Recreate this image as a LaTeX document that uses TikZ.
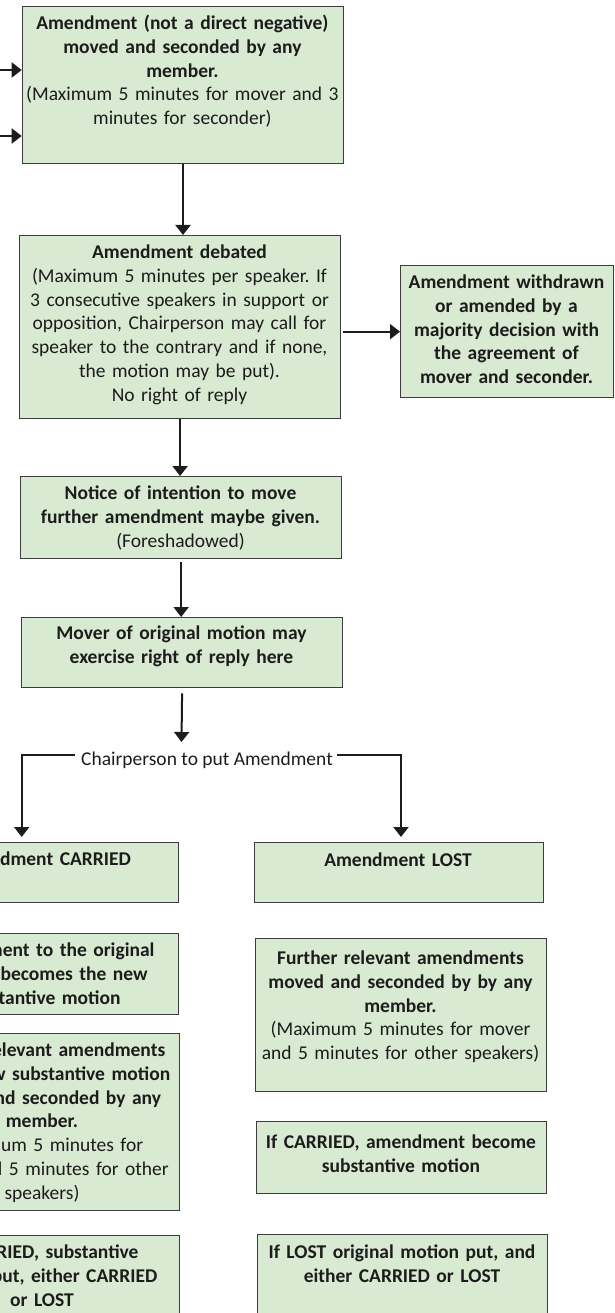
\documentclass[tikz,border=0pt]{standalone}
\usepackage{fontspec}
\setmainfont{Carlito}
\usetikzlibrary{arrows.meta}
\definecolor{boxfill}{RGB}{216,234,210}
\definecolor{boxline}{RGB}{60,60,60}
\definecolor{ink}{RGB}{28,28,28}
\frenchspacing
\begin{document}
\begin{tikzpicture}[x=1pt,y=-1pt,
  box/.style={draw=boxline, line width=1.3pt, fill=boxfill, inner sep=0pt, anchor=north west},
  txt/.style={anchor=base, align=center, inner sep=0pt, text=ink, font=\fontsize{19.5}{23.8}\selectfont},
  arr/.style={draw=ink, line width=2pt, -{Triangle[width=15pt,length=10pt]}}]
\useasboundingbox (0,0) rectangle (614,1313);
% boxes
\node[box, minimum width=321.3pt, minimum height=157pt] (b1) at (21.7,6) {};
\node[box, minimum width=321.1pt, minimum height=183pt] (b2) at (18.9,235) {};
\node[box, minimum width=213pt, minimum height=132pt] (wd) at (400,265) {};
\node[box, minimum width=321pt, minimum height=82pt] (b3) at (20,476) {};
\node[box, minimum width=321pt, minimum height=70pt] (b4) at (21,617) {};
\node[box, minimum width=273pt, minimum height=60pt] (car) at (-95,842) {};
\node[box, minimum width=288.5pt, minimum height=60pt] (lost) at (254,842) {};
\node[box, minimum width=273pt, minimum height=81pt] (l2) at (-95,933) {};
\node[box, minimum width=291pt, minimum height=153pt] (fur) at (255,938) {};
\node[box, minimum width=274pt, minimum height=177pt] (l3) at (-95,1033) {};
\node[box, minimum width=290pt, minimum height=72pt] (ifc) at (256,1121) {};
\node[box, minimum width=274pt, minimum height=100pt] (l4) at (-95,1235) {};
\node[box, minimum width=290pt, minimum height=100pt] (ifl) at (257,1234) {};
% texts
\node[txt, text width=330pt] (t1) at (182.4,29.5) {\textbf{Amendment (not a direct negative)}\\\textbf{moved and seconded by any}\\\textbf{member.}\\(Maximum 5 minutes for mover and 3\\minutes for seconder)};
\node[txt, text width=330pt] (t2) at (179.5,258.5) {\textbf{Amendment debated}\\(Maximum 5 minutes per speaker. If\\3 consecutive speakers in support or\\opposition, Chairperson may call for\\speaker to the contrary and if none,\\the motion may be put).\\No right of reply};
\node[txt, text width=220pt] (twd) at (506.5,288.5) {\textbf{Amendment withdrawn}\\\textbf{or amended by a}\\\textbf{majority decision with}\\\textbf{the agreement of}\\\textbf{mover and seconder.}};
\node[txt, text width=330pt] (t3) at (180.5,499.5) {\textbf{Notice of intention to move}\\\textbf{further amendment maybe given.}\\(Foreshadowed)};
\node[txt, text width=330pt] (t4) at (181.5,639.5) {\textbf{Mover of original motion may}\\\textbf{exercise right of reply here}};
\node[txt] (chair) at (207,765.5) {Chairperson to put Amendment};
\node[txt, text width=300pt] (tcar) at (41.5,865.5) {\textbf{Amendment CARRIED}};
\node[txt, text width=300pt] (tlost) at (398,866.5) {\textbf{Amendment LOST}};
\node[txt, text width=300pt] (tl2) at (41.5,956.5) {\textbf{Amendment to the original}\\\textbf{motion becomes the new}\\\textbf{substantive motion}};
\node[txt, text width=300pt] (tfur) at (400.5,964.5) {\textbf{Further relevant amendments}\\\textbf{moved and seconded by by any}\\\textbf{member.}\\(Maximum 5 minutes for mover\\and 5 minutes for other speakers)};
\node[txt, text width=300pt] (tl3) at (42,1056.5) {\textbf{Further relevant amendments}\\\textbf{to the new substantive motion}\\\textbf{moved and seconded by any}\\\textbf{member.}\\(Maximum 5 minutes for\\mover and 5 minutes for other\\speakers)};
\node[txt, text width=300pt] (tifc) at (401,1148.5) {\textbf{If CARRIED, amendment become}\\\textbf{substantive motion}};
\node[txt, text width=300pt] (tl4) at (42,1258.5) {\textbf{If CARRIED, substantive}\\\textbf{motion put, either CARRIED}\\\textbf{or LOST}};
\node[txt, text width=300pt] (tifl) at (402,1258.5) {\textbf{If LOST original motion put, and}\\\textbf{either CARRIED or LOST}};
% coordinates
\coordinate (inA) at (-2,70);
\coordinate (inB) at (-2,136);
\coordinate (put) at (181.5,742);
\coordinate (cl) at (21.7,755);
\coordinate (cr) at (401,755);
% connectors
\draw[arr] (inA) -- (inA -| b1.west);
\draw[arr] (inB) -- (inB -| b1.west);
\draw[arr] (b1.south) -- (b1.south |- b2.north);
\draw[arr, shorten <=2pt] (wd.west -| b2.east) -- (wd.west);
\draw[arr] (b2.south) -- (b2.south |- b3.north);
\draw[arr, shorten <=3pt] (b3.south) -- (b3.south |- b4.north);
\draw[arr, shorten <=5pt] (b4.south) -- (put);
\draw[arr, shorten >=5pt] ([xshift=-6pt]chair.west |- cl) -- (cl) -- (cl |- car.north);
\draw[arr, shorten >=5pt] ([xshift=4pt]chair.east |- cr) -- (cr) -- (cr |- lost.north);
\end{tikzpicture}
\end{document}
